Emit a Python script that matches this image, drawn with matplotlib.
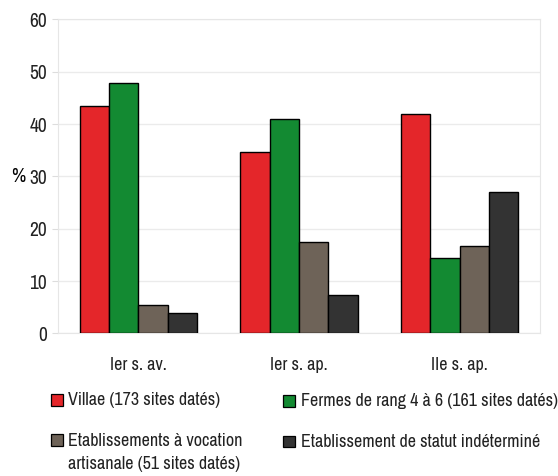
import numpy as np
import matplotlib.pyplot as plt
from matplotlib.patches import Rectangle

plt.rcParams['font.family'] = ['Archivo Narrow', 'Liberation Sans', 'DejaVu Sans']
plt.rcParams['text.color'] = '#222222'

periods = ['Ier s. av.', 'Ier s. ap.', 'IIe s. ap.']
series = ['Villae (173 sites datés)',
          'Fermes de rang 4 à 6 (161 sites datés)',
          'Etablissements à vocation\nartisanale (51 sites datés)',
          'Etablissement de statut indéterminé']
villae = [43.4, 34.6, 41.9]
fermes = [47.8, 41.0, 14.5]
artisanale = [5.4, 17.4, 16.8]
indetermine = [3.9, 7.3, 27.1]
colors = ['#e4262a', '#138a32', '#6e6358', '#333333']

values = [villae, fermes, artisanale, indetermine]

fig = plt.figure(figsize=(5.58, 4.76), dpi=100)
ax = fig.add_axes([0.104, 0.2994, 0.864, 0.66])

x = np.arange(len(periods))
w = 0.1825
for i, (vals, c) in enumerate(zip(values, colors)):
    ax.bar(x + (i - 1.5) * w, vals, w, color=c, edgecolor='black', linewidth=1, zorder=3)

ax.set_xlim(-0.5, 2.5)
ax.set_ylim(0, 60)
ax.set_yticks(range(0, 61, 10))
ax.set_xticks(x)
ax.set_xticklabels(periods, fontsize=13, color='#222222')
ax.tick_params(axis='y', labelsize=14, labelcolor='#222222', color='#dddddd', length=4, pad=4)
ax.tick_params(axis='x', length=0, pad=17)
ax.grid(axis='y', color='#ebebeb', linewidth=1, zorder=0)
for s in ax.spines.values():
    s.set_color('#e6e6e6')
ax.set_ylabel('%', rotation=0, fontsize=14, va='center', ha='center')
ax.yaxis.set_label_coords(-0.083, 0.5)

# legend laid out as in the original (2 columns, row-wise)
pos = [(0.091, 0.160), (0.508, 0.158), (0.091, 0.0755), (0.508, 0.072)]
for (lx, ly), lab, c in zip(pos, series, colors):
    fig.patches.append(Rectangle((lx, ly - 0.012), 0.0215, 0.024, transform=fig.transFigure,
                                 facecolor=c, edgecolor='black', linewidth=0.9))
    if '\n' in lab:
        fig.text(lx + 0.0315, 0.049, lab, fontsize=13, va='center', linespacing=1.5)
    else:
        fig.text(lx + 0.0315, ly, lab, fontsize=13, va='center')

fig.savefig('out.png')
